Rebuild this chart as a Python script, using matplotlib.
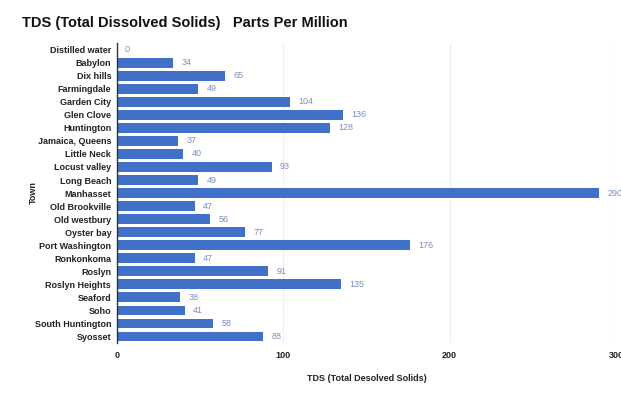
import matplotlib
matplotlib.use("Agg")
import matplotlib.pyplot as plt
import numpy as np

plt.rcParams['font.family'] = ['Liberation Sans', 'DejaVu Sans']

towns = ["Distilled water", "Babylon", "Dix hills", "Farmingdale", "Garden City",
         "Glen Clove", "Huntington", "Jamaica, Queens", "Little Neck", "Locust valley",
         "Long Beach", "Manhasset", "Old Brookville", "Old westbury", "Oyster bay",
         "Port Washington", "Ronkonkoma", "Roslyn", "Roslyn Heights", "Seaford",
         "Soho", "South Huntington", "Syosset"]
tds = [0, 34, 65, 49, 104, 136, 128, 37, 40, 93, 49, 290, 47, 56, 77,
       176, 47, 91, 135, 38, 41, 58, 88]

bar_color = "#4070c8"

fig = plt.figure(figsize=(6.21, 3.96), dpi=100)
ax = fig.add_axes([0.188, 0.134, 0.804, 0.757])

y = np.arange(len(towns))
ax.barh(y, tds, height=0.74, color=bar_color)
for yi, v in zip(y, tds):
    ax.text(v + 5, yi, str(v), va="center", ha="left", fontsize=6.5, color="#7a8fc0")

ax.set_ylim(len(towns) - 0.5, -0.5)
ax.set_xlim(0, 300)
ax.set_xticks([0, 100, 200, 300])
ax.set_yticks(y)
ax.set_yticklabels(towns, fontsize=6.5, fontweight="bold", color="#222222")
ax.tick_params(axis="x", labelsize=6.5, length=0, pad=6, labelcolor="#222222")
ax.tick_params(axis="y", length=0, pad=4)
for lbl in ax.get_xticklabels():
    lbl.set_fontweight("bold")

ax.grid(axis="x", color="#eeeeee", linewidth=0.8)
ax.set_axisbelow(True)
for s in ["top", "right", "bottom"]:
    ax.spines[s].set_visible(False)
ax.spines["left"].set_color("#333333")
ax.spines["left"].set_linewidth(1.0)

ax.set_xlabel("TDS (Total Desolved Solids)", fontsize=6.5, fontweight="bold",
              color="#222222", labelpad=10)
ax.set_ylabel("Town", fontsize=6.5, fontweight="bold", color="#222222", labelpad=-2)

fig.text(0.035, 0.943, "TDS (Total Dissolved Solids)   Parts Per Million",
         fontsize=10.5, fontweight="bold", color="#111111", va="center")

fig.savefig("out.png", dpi=100)
